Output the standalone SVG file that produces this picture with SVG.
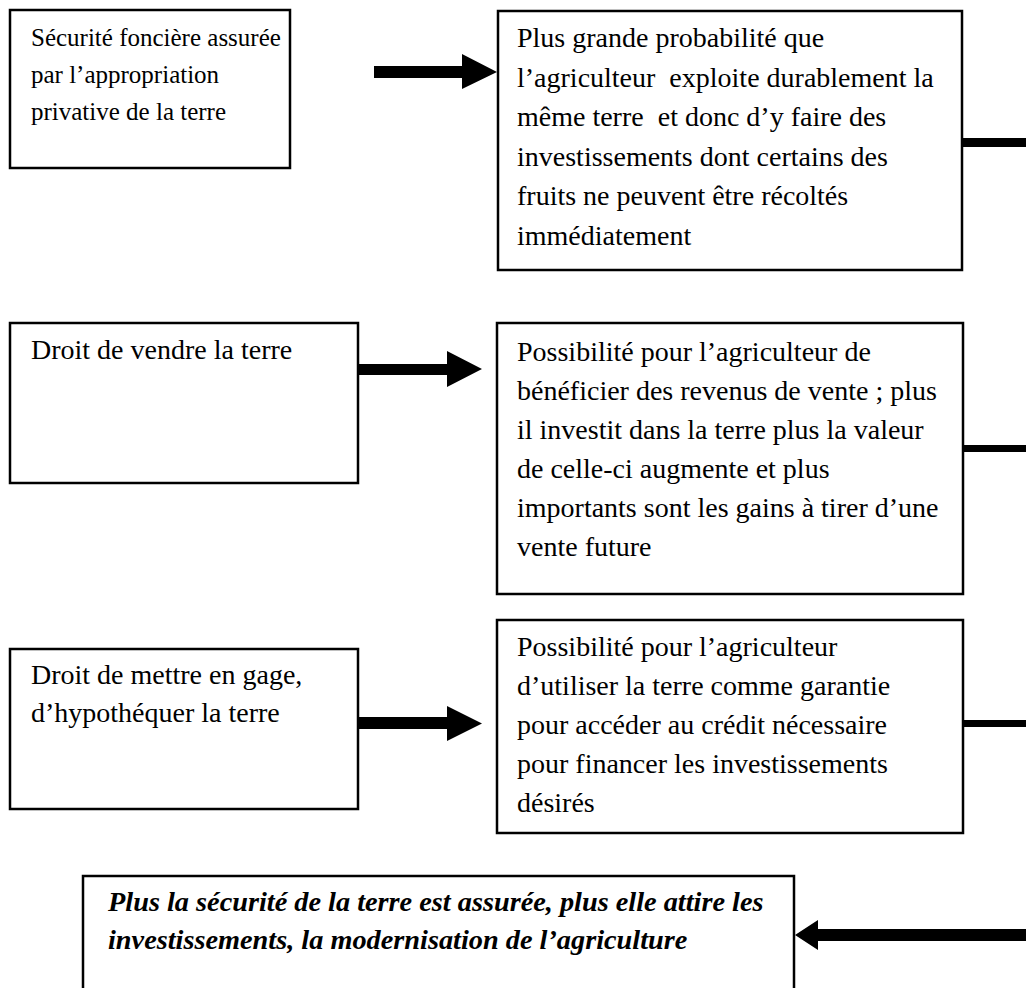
<svg xmlns="http://www.w3.org/2000/svg" width="1026" height="988" viewBox="0 0 1026 988">
<style>
.box{fill:#fff;stroke:#000;stroke-width:2.5}
.t{font-family:"Liberation Serif","Times New Roman",serif;font-size:28px;fill:#000;white-space:pre}
.s{font-size:25px}
.b{font-weight:bold;font-style:italic;font-size:28.3px}
.ar{fill:#000;stroke:none}
</style>
<rect width="1026" height="988" fill="#fff"/>
<g id="n1">
<rect class="box" x="10" y="10" width="280" height="158"/>
<text class="t s" x="31" y="46">Sécurité foncière assurée</text>
<text class="t s" x="31" y="83">par l’appropriation</text>
<text class="t s" x="31" y="120">privative de la terre</text>
</g>
<g id="n2">
<rect class="box" x="498" y="11" width="464" height="259"/>
<text class="t" x="517" y="47">Plus grande probabilité que</text>
<text class="t" x="517" y="86.5">l’agriculteur  exploite durablement la</text>
<text class="t" x="517" y="126">même terre  et donc d’y faire des</text>
<text class="t" x="517" y="165.5">investissements dont certains des</text>
<text class="t" x="517" y="205">fruits ne peuvent être récoltés</text>
<text class="t" x="517" y="244.5">immédiatement</text>
</g>
<g id="n3">
<rect class="box" x="10" y="323" width="348" height="160"/>
<text class="t" x="31" y="359">Droit de vendre la terre</text>
</g>
<g id="n4">
<rect class="box" x="497" y="323" width="466" height="271"/>
<text class="t" x="517" y="361">Possibilité pour l’agriculteur de</text>
<text class="t" x="517" y="400">bénéficier des revenus de vente ; plus</text>
<text class="t" x="517" y="439">il investit dans la terre plus la valeur</text>
<text class="t" x="517" y="478">de celle-ci augmente et plus</text>
<text class="t" x="517" y="517">importants sont les gains à tirer d’une</text>
<text class="t" x="517" y="556">vente future</text>
</g>
<g id="n5">
<rect class="box" x="10" y="649" width="348" height="160"/>
<text class="t" x="31" y="684">Droit de mettre en gage,</text>
<text class="t" x="31" y="722">d’hypothéquer la terre</text>
</g>
<g id="n6">
<rect class="box" x="497" y="620" width="466" height="213"/>
<text class="t" x="517" y="656">Possibilité pour l’agriculteur</text>
<text class="t" x="517" y="695">d’utiliser la terre comme garantie</text>
<text class="t" x="517" y="734">pour accéder au crédit nécessaire</text>
<text class="t" x="517" y="773">pour financer les investissements</text>
<text class="t" x="517" y="812">désirés</text>
</g>
<g id="n7">
<rect class="box" x="83" y="876" width="711" height="130"/>
<text class="t b" x="108" y="911">Plus la sécurité de la terre est assurée, plus elle attire les</text>
<text class="t b" x="108" y="949">investissements, la modernisation de l’agriculture</text>
</g>
<g id="connectors">
<polygon class="ar" points="374,66 462,66 462,54 497,72 462,89 462,78 374,78"/>
<polygon class="ar" points="358,364 447,364 447,351 482,369 447,387 447,375 358,375"/>
<polygon class="ar" points="358,717 447,717 447,706 482,723.5 447,741 447,729 358,729"/>
<rect class="ar" x="962" y="138" width="64" height="9"/>
<rect class="ar" x="963" y="445" width="63" height="7"/>
<rect class="ar" x="963" y="720" width="63" height="7"/>
<polygon class="ar" points="1026,929 818,929 818,920 795,935 818,950 818,941 1026,941"/>
</g>
</svg>
